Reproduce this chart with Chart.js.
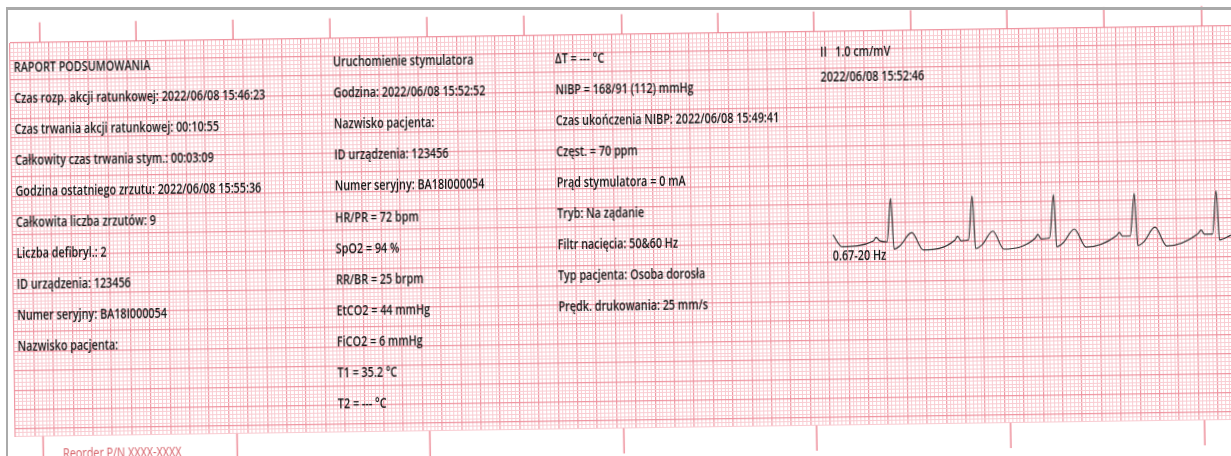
<!DOCTYPE html>
<html>
<head>
<meta charset="utf-8">
<script src="https://cdn.jsdelivr.net/npm/chart.js@4.4.1/dist/chart.umd.min.js"></script>
<style>
    html, body { margin: 0; padding: 0; background: #fff; }
    body { width: 1231px; height: 456px; overflow: hidden; position: relative; }
    #paper { position: absolute; left: 0; top: 0; transform-origin: 10px 43px; transform: rotate(-0.8deg); }
    #frame { position: absolute; left: 6px; top: 7px; right: -10px; bottom: -10px;
             border-top: 3px solid #aaaaaa; border-left: 2px solid #aaaaaa; pointer-events: none; }
</style>
</head>
<body>
<canvas id="paper" width="1250" height="470"></canvas>
<div id="frame"></div>
<script>
// Paper geometry (mm) - the grid is 1 mm minor / 5 mm major
const GRID_H = 101.5;
const GRID_W = 319.6;
const PX_PER_MM = 3.88;
const PAPER_SPEED = 25;   // mm/s
const GAIN = 10;          // mm/mV

// Timing marks printed above / below the grid (mm from grid left)
const topTickMm = [7.7, 32.5, 57.5, 82.5, 107.5, 132.5, 157.7, 182.5, 207.2, 232.2, 257.0, 282.0, 307.2];
const bottomTickMm = [7.1, 57.1, 106.8, 156.8, 206.5, 256.5, 306.5];

// Lead II strip
const stripStartMm = 211.4;
const baselineMm = 47.5;   // from grid bottom
const ecgTime = [0, 0.092, 0.416, 0.444, 0.480, 0.556, 0.600, 0.628, 0.688, 0.812, 0.928,
    1.256, 1.284, 1.320, 1.396, 1.440, 1.468, 1.536, 1.648, 1.760,
    2.084, 2.112, 2.144, 2.232, 2.280, 2.304, 2.372, 2.488, 2.608,
    2.920, 2.952, 2.984, 3.064, 3.112, 3.140, 3.204, 3.320, 3.440,
    3.760, 3.796, 3.828, 3.912, 3.956, 3.984, 4.104];
const ecgMv = [0.16, -0.15, -0.01, 0.08, -0.01, -0.04, 1.08, -0.23, -0.15, 0.19, -0.26,
    -0.02, 0.08, -0.04, -0.02, 1.11, -0.24, -0.15, 0.20, -0.27,
    0.00, 0.10, -0.02, 0.00, 1.12, -0.23, -0.13, 0.22, -0.25,
    0.03, 0.12, 0.02, 0.02, 1.12, -0.23, -0.13, 0.24, -0.25,
    0.05, 0.15, 0.04, 0.04, 1.16, -0.11, 0.01];

// Printed report text
const col1Lines = [
    'RAPORT PODSUMOWANIA',
    'Czas rozp. akcji ratunkowej: 2022/06/08 15:46:23',
    'Czas trwania akcji ratunkowej: 00:10:55',
    'Całkowity czas trwania stym.: 00:03:09',
    'Godzina ostatniego zrzutu: 2022/06/08 15:55:36',
    'Całkowita liczba zrzutów: 9',
    'Liczba defibryl.: 2',
    'ID urządzenia: 123456',
    'Numer seryjny: BA18I000054',
    'Nazwisko pacjenta:'
];
const col2Lines = [
    'Uruchomienie stymulatora',
    'Godzina: 2022/06/08 15:52:52',
    'Nazwisko pacjenta:',
    'ID urządzenia: 123456',
    'Numer seryjny: BA18I000054',
    'HR/PR = 72 bpm',
    'SpO2 = 94 %',
    'RR/BR = 25 brpm',
    'EtCO2 = 44 mmHg',
    'FiCO2 = 6 mmHg',
    'T1 = 35.2 °C',
    'T2 = --- °C'
];
const col3Lines = [
    'ΔT = --- °C',
    'NIBP = 168/91 (112) mmHg',
    'Czas ukończenia NIBP: 2022/06/08 15:49:41',
    'Częst. = 70 ppm',
    'Prąd stymulatora = 0 mA',
    'Tryb: Na ządanie',
    'Filtr nacięcia: 50&60 Hz',
    'Typ pacjenta: Osoba dorosła',
    'Prędk. drukowania: 25 mm/s'
];
const leadLines = ['II   1.0 cm/mV', '2022/06/08 15:52:46'];
const filterLabel = '0.67-20 Hz';
const reorderLabel = 'Reorder P/N XXXX-XXXX';

const MINOR = '#f9ccd2';
const MAJOR = '#ef95a1';
const INK = '#141414';
const TEXT_SQUEEZE = 0.72;

/**
 * Build a segmented line (null between segments) for the timing marks
 */
function tickSegments(positions, y0, y1) {
    const pts = [];
    positions.forEach(mm => {
        pts.push({ x: mm, y: y0 }, { x: mm, y: y1 }, { x: mm, y: null });
    });
    return pts;
}

const ecgData = ecgTime.map((t, i) => ({
    x: stripStartMm + t * PAPER_SPEED,
    y: baselineMm + ecgMv[i] * GAIN
}));

// Draws the printer's text onto the paper using the chart scales
const printTextPlugin = {
    id: 'printText',
    afterDatasetsDraw(chart) {
        const { ctx, scales: { x, y } } = chart;
        const put = (str, mmX, mmTop, font, color) => {
            ctx.save();
            ctx.translate(x.getPixelForValue(mmX), y.getPixelForValue(GRID_H - mmTop));
            ctx.scale(TEXT_SQUEEZE, 1);
            ctx.font = font;
            ctx.fillStyle = color;
            ctx.textBaseline = 'middle';
            ctx.fillText(str, 0, 0);
            ctx.restore();
        };
        const body = '600 15px "Open Sans"';
        col1Lines.forEach((s, i) => put(s, 0.9, 6.4 + i * 8, body, INK));
        col2Lines.forEach((s, i) => put(s, 83.2, 6.2 + i * 8, body, INK));
        col3Lines.forEach((s, i) => put(s, 140.4, 6.0 + i * 8, body, INK));
        put(leadLines[0], 208.8, 5.4, body, INK);
        put(leadLines[1], 208.8, 11.9, body, INK);
        put(filterLabel, 211.3, 58.0, body, INK);
        put(reorderLabel, 12.2, 106.0, '15px "Open Sans"', '#d45a62');
    }
};

const config = {
    type: 'line',
    data: {
        datasets: [
            {
                label: 'II',
                data: ecgData,
                borderColor: '#333333',
                borderWidth: 1.2,
                pointRadius: 0,
                cubicInterpolationMode: 'monotone'
            },
            {
                label: 'top marks',
                data: tickSegments(topTickMm, GRID_H, GRID_H + 5.2),
                borderColor: '#ec8592',
                borderWidth: 1.4,
                pointRadius: 0,
                spanGaps: false,
                clip: false
            },
            {
                label: 'bottom marks',
                data: tickSegments(bottomTickMm, 0, -6.5),
                borderColor: '#ec8592',
                borderWidth: 1.4,
                pointRadius: 0,
                spanGaps: false,
                clip: false
            }
        ]
    },
    options: {
        responsive: false,
        animation: false,
        devicePixelRatio: 1,
        layout: { padding: { left: 10, top: 43, right: 0, bottom: 470 - 43 - GRID_H * PX_PER_MM } },
        plugins: { legend: { display: false }, tooltip: { enabled: false } },
        scales: {
            x: {
                type: 'linear',
                min: 0,
                max: GRID_W,
                afterFit: s => { s.height = 0; },
                border: { display: false },
                ticks: { display: false, stepSize: 1, autoSkip: false },
                grid: {
                    drawTicks: false,
                    color: c => (c.tick.value % 5 === 0 ? MAJOR : MINOR),
                    lineWidth: c => (c.tick.value % 5 === 0 ? 1.2 : 1)
                }
            },
            y: {
                type: 'linear',
                min: 0,
                max: GRID_H,
                afterFit: s => { s.width = 0; },
                border: { display: false },
                ticks: { display: false, stepSize: 1, autoSkip: false },
                grid: {
                    drawTicks: false,
                    color: c => (Math.round(GRID_H - c.tick.value) % 5 === 0 ? MAJOR : MINOR),
                    lineWidth: c => (Math.round(GRID_H - c.tick.value) % 5 === 0 ? 1.2 : 1)
                }
            }
        }
    },
    plugins: [printTextPlugin]
};

new Chart(document.getElementById('paper'), config);
</script>
</body>
</html>
